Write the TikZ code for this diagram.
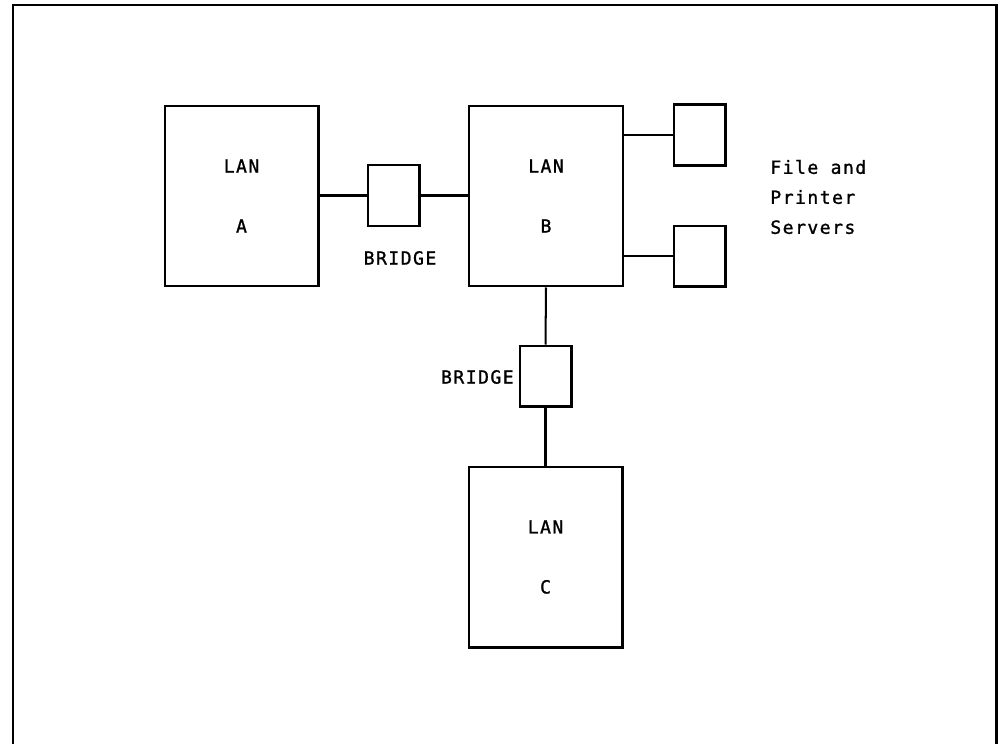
\documentclass[tikz,border=0pt]{standalone}
\usepackage{fontspec}
\setmainfont{DejaVu Sans Mono}[LetterSpace=8,FakeBold=1.2]
\begin{document}
\begin{tikzpicture}[x=0.02cm,y=-0.02cm,
  font=\fontsize{10.3pt}{12pt}\selectfont,
  lan/.style={draw,line width=1.15pt,minimum width=3.08cm,minimum height=3.62cm,inner sep=0pt,align=center,font=\fontsize{10.3pt}{1.2cm}\selectfont},
  small/.style={draw,line width=1.15pt,minimum width=1.04cm,minimum height=1.22cm,inner sep=0pt},
  link/.style={line width=1.15pt},
  lbl/.style={inner sep=0pt}]
\useasboundingbox (0,0) rectangle (1000,744);
\draw[line width=1.7pt] (13,744) -- (13,5) -- (996,5) -- (996,744);
\node[lan] (A) at (241.5,196) {LAN\\A};
\node[small] (br1) at (393.5,195.5) {};
\node[lan] (B) at (546,196) {LAN\\B};
\node[small] (s1) at (699.5,135) {};
\node[small] (s2) at (699.5,256) {};
\node[small] (br2) at (545.5,376) {};
\node[lan] (C) at (545.5,557) {LAN\\C};
\node[lbl] (l1) at (400,258) {BRIDGE};
\node[lbl,anchor=east] (l2) at (514,377) {BRIDGE};
\node[lbl,anchor=west,align=left,font=\fontsize{10.3pt}{0.6cm}\selectfont] (fs) at (770,197) {File and\\Printer\\Servers};
\draw[link] (A.east |- br1.west) -- (br1.west);
\draw[link] (br1.east) -- (br1.east -| B.west);
\draw[link] (s1.west -| B.east) -- (s1.west);
\draw[link] (s2.west -| B.east) -- (s2.west);
\draw[link] (B.south) -- (br2.north);
\draw[link] (br2.south) -- (C.north);
\end{tikzpicture}
\end{document}
